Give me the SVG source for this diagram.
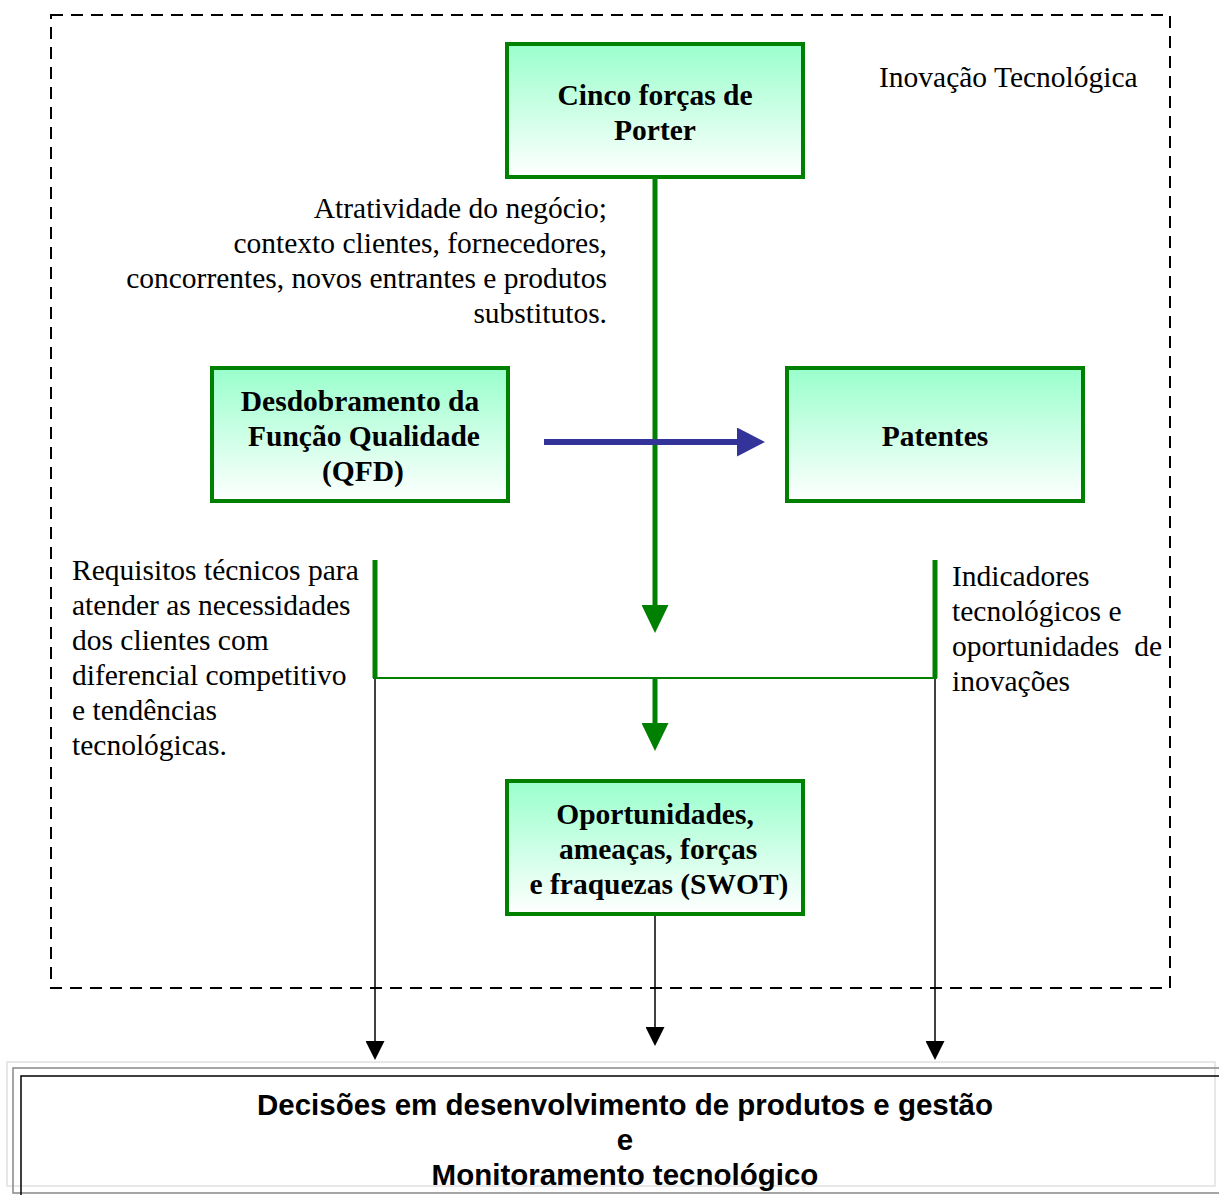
<svg xmlns="http://www.w3.org/2000/svg" width="1219" height="1195" viewBox="0 0 1219 1195">
  <style>
    .box { stroke: #008000; stroke-width: 4; fill: url(#boxFill); }
    .title { font-family: "Liberation Serif", "Times New Roman", serif; font-size: 29.5px; font-weight: bold; fill: #000; text-anchor: middle; }
    .note { font-family: "Liberation Serif", "Times New Roman", serif; font-size: 29.5px; fill: #000; }
    .final { font-family: "Liberation Sans", Arial, sans-serif; font-size: 29.5px; font-weight: bold; fill: #000; text-anchor: middle; }
    .green { stroke: #008000; fill: none; }
    .thin { stroke: #000; stroke-width: 1.5; fill: none; }
  </style>
  <defs>
    <linearGradient id="boxFill" x1="0" y1="0" x2="0" y2="1">
      <stop offset="0" stop-color="#99FFCC"/>
      <stop offset="1" stop-color="#FFFFFF"/>
    </linearGradient>
    <!-- arrowheads are anchored at their base, so the tip runs past the line end -->
    <marker id="headGreen" viewBox="0 0 28 27" refX="0" refY="13.5" markerWidth="28" markerHeight="27" markerUnits="userSpaceOnUse" orient="auto">
      <path d="M0,0 L28,13.5 L0,27 Z" fill="#008000"/>
    </marker>
    <marker id="headBlue" viewBox="0 0 28 29" refX="0" refY="14.5" markerWidth="28" markerHeight="29" markerUnits="userSpaceOnUse" orient="auto">
      <path d="M0,0 L28,14.5 L0,29 Z" fill="#333399"/>
    </marker>
    <marker id="headBlack" viewBox="0 0 19 19" refX="0" refY="9.5" markerWidth="19" markerHeight="19" markerUnits="userSpaceOnUse" orient="auto">
      <path d="M0,0 L19,9.5 L0,19 Z" fill="#000"/>
    </marker>
  </defs>

  <rect width="1219" height="1195" fill="#fff"/>

  <!-- dashed frame: technological innovation scope -->
  <g id="frame">
    <rect x="51" y="15" width="1119" height="973" fill="none" stroke="#000" stroke-width="2" stroke-dasharray="12 8"/>
    <text class="note" x="879" y="87">Inovação Tecnológica</text>
  </g>

  <!-- connectors -->
  <g id="connectors">
    <line class="green" x1="655" y1="179" x2="655" y2="605" stroke-width="5" marker-end="url(#headGreen)"/>
    <line x1="544" y1="442" x2="737" y2="442" stroke="#333399" stroke-width="6" marker-end="url(#headBlue)"/>
    <line class="green" x1="375" y1="560" x2="375" y2="678" stroke-width="5"/>
    <line class="green" x1="935" y1="560" x2="935" y2="678" stroke-width="5"/>
    <line class="green" x1="373" y1="678" x2="937" y2="678" stroke-width="2"/>
    <line class="green" x1="655" y1="678" x2="655" y2="723" stroke-width="5" marker-end="url(#headGreen)"/>
    <line class="thin" x1="375" y1="679" x2="375" y2="1041" marker-end="url(#headBlack)"/>
    <line class="thin" x1="935" y1="679" x2="935" y2="1041" marker-end="url(#headBlack)"/>
    <line class="thin" x1="655" y1="916" x2="655" y2="1027" marker-end="url(#headBlack)"/>
  </g>

  <g id="porter">
    <rect class="box" x="507" y="44" width="296" height="133"/>
    <text class="title" x="655" y="105">Cinco forças de</text>
    <text class="title" x="655" y="140">Porter</text>
  </g>

  <g id="porter-note">
    <text class="note" text-anchor="end" x="607" y="218">Atratividade do negócio;</text>
    <text class="note" text-anchor="end" x="607" y="253">contexto clientes, fornecedores,</text>
    <text class="note" text-anchor="end" x="607" y="288">concorrentes, novos entrantes e produtos</text>
    <text class="note" text-anchor="end" x="607" y="323">substitutos.</text>
  </g>

  <g id="qfd">
    <rect class="box" x="212" y="368" width="296" height="133"/>
    <text class="title" x="360" y="411">Desdobramento da</text>
    <text class="title" x="364" y="446">Função Qualidade</text>
    <text class="title" x="363" y="481">(QFD)</text>
  </g>

  <g id="patentes">
    <rect class="box" x="787" y="368" width="296" height="133"/>
    <text class="title" x="935" y="446">Patentes</text>
  </g>

  <g id="qfd-note">
    <text class="note" x="72" y="580">Requisitos técnicos para</text>
    <text class="note" x="72" y="615">atender as necessidades</text>
    <text class="note" x="72" y="650">dos clientes com</text>
    <text class="note" x="72" y="685">diferencial competitivo</text>
    <text class="note" x="72" y="720">e tendências</text>
    <text class="note" x="72" y="755">tecnológicas.</text>
  </g>

  <g id="patentes-note">
    <text class="note" x="952" y="586">Indicadores</text>
    <text class="note" x="952" y="621">tecnológicos e</text>
    <text class="note" x="952" y="656">oportunidades</text>
    <text class="note" x="1162" y="656" text-anchor="end">de</text>
    <text class="note" x="952" y="691">inovações</text>
  </g>

  <g id="swot">
    <rect class="box" x="507" y="781" width="296" height="133"/>
    <text class="title" x="655" y="824">Oportunidades,</text>
    <text class="title" x="658" y="859">ameaças, forças</text>
    <text class="title" x="659" y="894">e fraquezas (SWOT)</text>
  </g>

  <g id="decisoes">
    <rect x="7" y="1062" width="1208" height="124" fill="none" stroke="#e0e0e0" stroke-width="1.5"/>
    <path d="M1219,1068 H13 V1193 H1219" fill="none" stroke="#888" stroke-width="1.5"/>
    <path d="M1219,1076 H21 V1195" fill="none" stroke="#000" stroke-width="1.5"/>
    <text class="final" x="625" y="1115">Decisões em desenvolvimento de produtos e gestão</text>
    <text class="final" x="625" y="1150">e</text>
    <text class="final" x="625" y="1185">Monitoramento tecnológico</text>
  </g>
</svg>
